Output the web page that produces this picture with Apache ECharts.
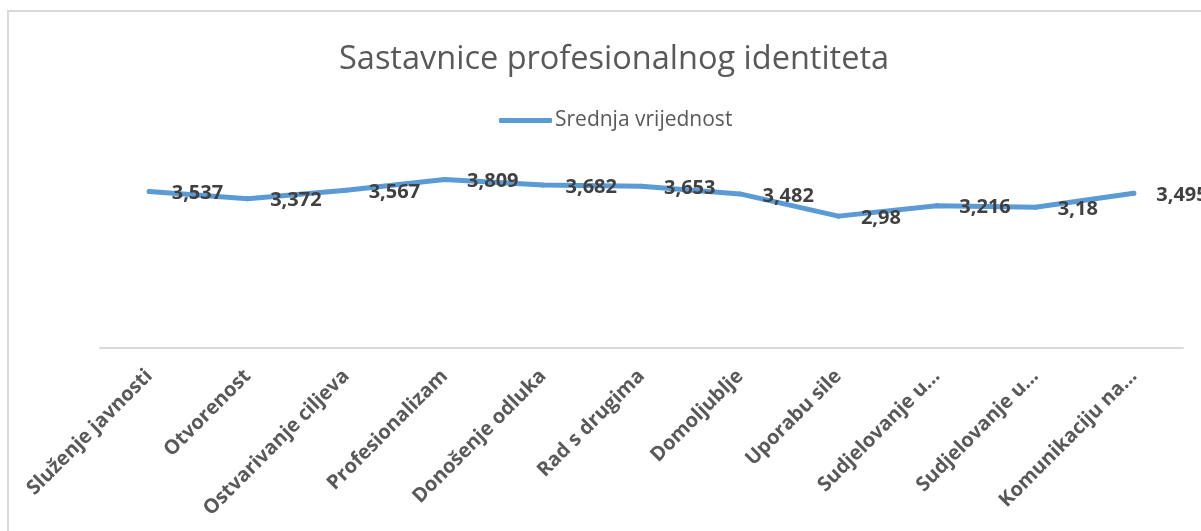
<!DOCTYPE html>
<html>
<head>
<meta charset="utf-8">
<title>Sastavnice profesionalnog identiteta</title>
<script src="https://cdn.jsdelivr.net/npm/echarts@6/dist/echarts.min.js"></script>
<style>
  html, body { margin: 0; padding: 0; background: #fff; }
  #frame { position: absolute; left: 7px; top: 10px; width: 1194px; height: 521px;
           border-left: 2px solid #d9d9d9; border-top: 2px solid #d9d9d9; box-sizing: border-box; }
  #chart { position: absolute; left: 0; top: 0; width: 1201px; height: 531px; }
</style>
</head>
<body>
<div id="frame"></div>
<div id="chart"></div>
<script>
  // podaci
  let categories = ['Služenje javnosti', 'Otvorenost', 'Ostvarivanje ciljeva', 'Profesionalizam',
    'Donošenje odluka', 'Rad s drugima', 'Domoljublje', 'Uporabu sile',
    'Sudjelovanje u...', 'Sudjelovanje u...', 'Komunikaciju na...'];
  let srednjaVrijednost = [3.537, 3.372, 3.567, 3.809, 3.682, 3.653, 3.482, 2.98, 3.216, 3.18, 3.495];
  let seriesName = 'Srednja vrijednost';

  let chart = echarts.init(document.getElementById('chart'));
  let option = {
    backgroundColor: 'transparent',
    animation: false,
    title: {
      text: 'Sastavnice profesionalnog identiteta',
      left: 334,
      top: 38,
      textStyle: { fontFamily: 'Open Sans', fontSize: 32.5, fontWeight: 'normal', color: '#595959' }
    },
    legend: {
      data: [{ name: seriesName, itemStyle: { color: '#5b9bd5', opacity: 1 } }],
      left: 494,
      top: 105,
      icon: 'roundRect',
      itemWidth: 53,
      itemHeight: 5,
      textStyle: { fontFamily: 'Open Sans', fontSize: 21, color: '#595959', padding: [0, 0, 0, -2] }
    },
    grid: { left: 100, right: 18, top: 171, bottom: 183 },
    xAxis: {
      type: 'category',
      data: categories,
      boundaryGap: true,
      axisLine: { lineStyle: { color: '#d9d9d9', width: 2 } },
      axisTick: { show: false },
      axisLabel: {
        interval: 0,
        rotate: 45,
        margin: 25,
        fontFamily: 'Open Sans',
        fontSize: 20,
        fontWeight: 'bold',
        color: '#595959'
      }
    },
    yAxis: {
      type: 'value',
      min: 0,
      max: 4,
      show: false,
      splitLine: { show: false }
    },
    series: [{
      name: seriesName,
      type: 'line',
      data: srednjaVrijednost,
      symbol: 'circle',
      symbolSize: 5,
      showSymbol: true,
      itemStyle: { color: '#5b9bd5' },
      lineStyle: { color: '#5b9bd5', width: 5, cap: 'round', join: 'round' },
      label: {
        show: true,
        position: 'right',
        distance: 20,
        offset: [0, 2],
        fontFamily: 'Open Sans',
        fontSize: 20,
        fontWeight: 'bold',
        color: '#404040',
        formatter: function (p) { return String(p.value).replace('.', ','); }
      }
    }]
  };
  chart.setOption(option);
</script>
</body>
</html>
